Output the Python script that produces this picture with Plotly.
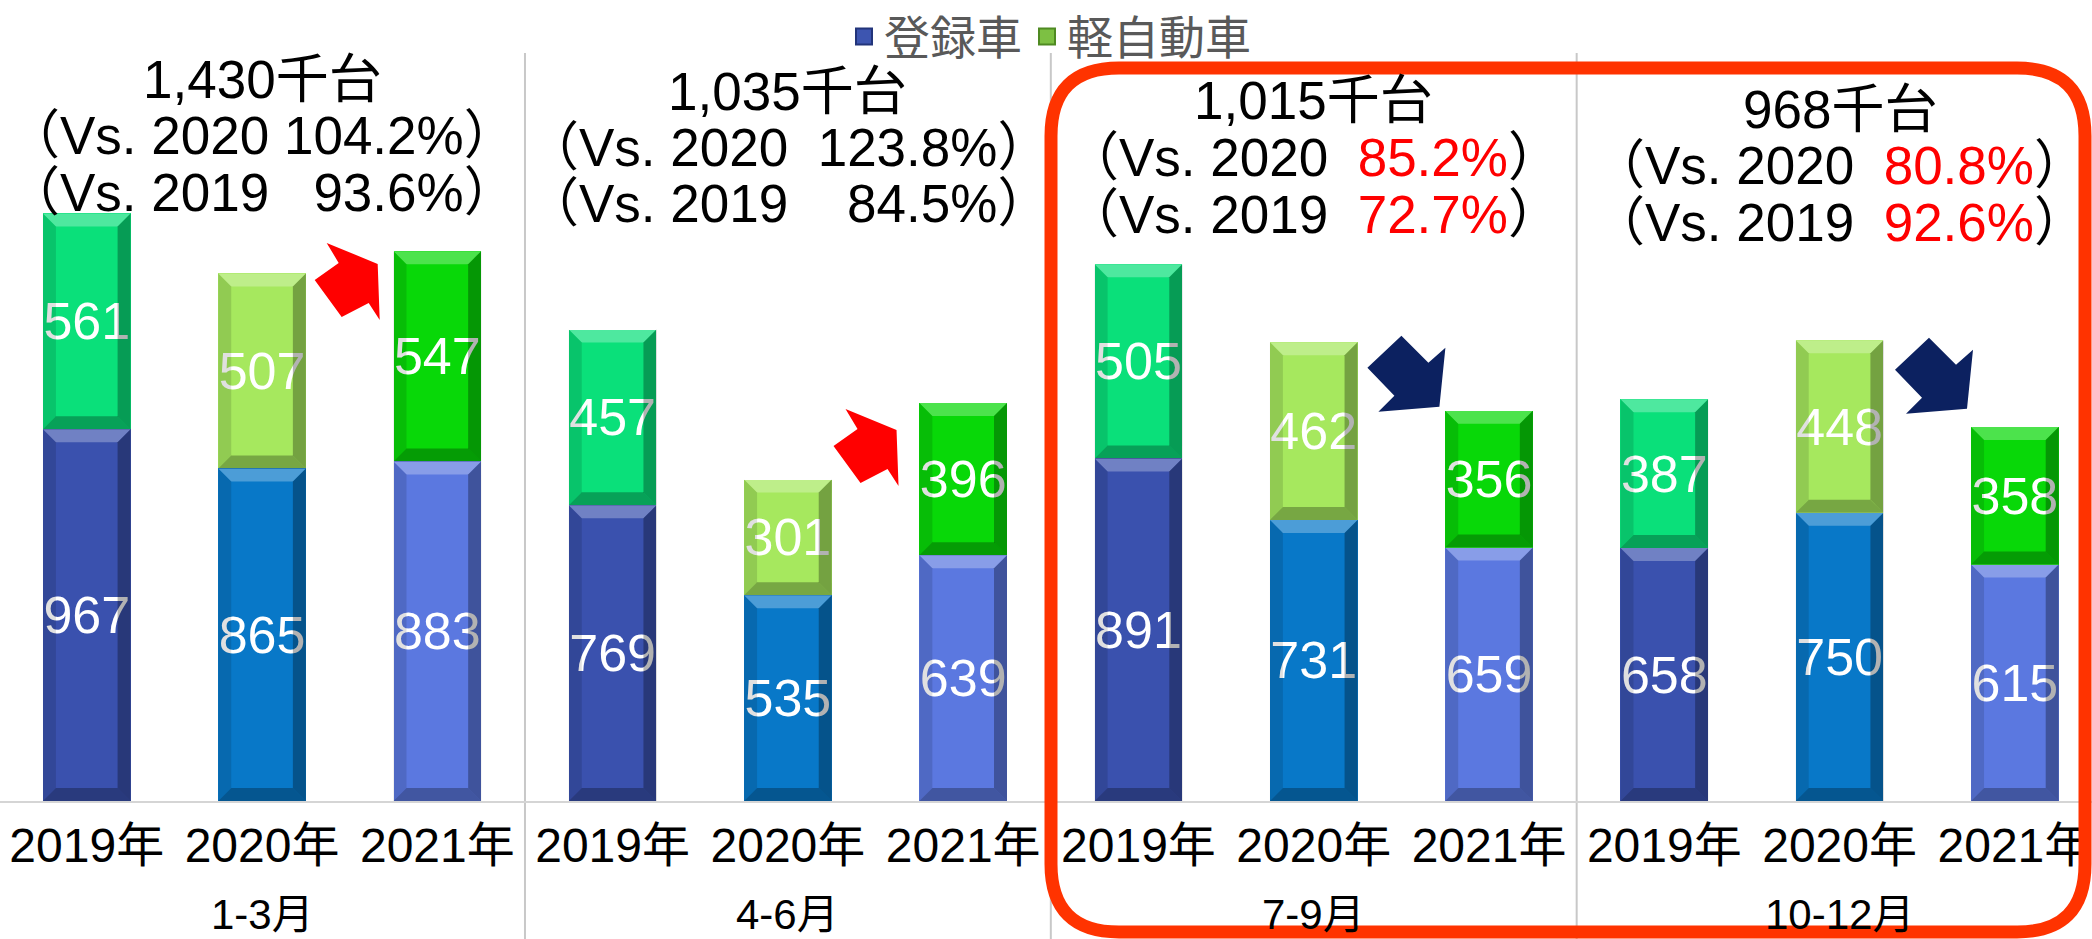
import plotly.graph_objects as go

# ---------------- data ----------------
quarters = ['1-3月', '4-6月', '7-9月', '10-12月']
years = ['2019年', '2020年', '2021年']
registered = [967, 865, 883, 769, 535, 639, 891, 731, 659, 658, 750, 615]   # 登録車
kei = [561, 507, 547, 457, 301, 396, 505, 462, 356, 387, 448, 358]          # 軽自動車
total_labels = ['1,430千台', '1,035千台', '1,015千台', '968千台']
vs2020_labels = ['104.2%', '123.8%', '85.2%', '80.8%']
vs2019_labels = ['93.6%', '84.5%', '72.7%', '92.6%']
vs2020_gap = [' ', '  ', '  ', '  ']
vs2019_gap = ['   ', '    ', '  ', '  ']
highlight = [False, False, True, True]
arrow_up = [True, True, False, False]

# ---------------- style ----------------
W, H = 2092, 939
M_T, M_B = 0, 138
PLOT_H = H - M_T - M_B
PX_PER_UNIT = 0.3845
YMAX = PLOT_H / PX_PER_UNIT
XR = [-0.495, 11.44]
FONT = 'Liberation Sans, Noto Sans CJK JP, sans-serif'
GRID_TOP_PX = 53

reg_colors = ['#3A51AE', '#0878C8', '#5B78E0']
kei_colors = ['#0AE07A', '#A6E85E', '#08D808']

n = len(registered)
xs = list(range(n))
yr = [i % 3 for i in xs]
BAR_W = 0.5

fig = go.Figure()
for vals, cols, name in [(registered, reg_colors, '登録車'), (kei, kei_colors, '軽自動車')]:
    fig.add_bar(
        x=xs, y=vals, name=name, showlegend=False, width=BAR_W,
        marker=dict(color=[cols[k] for k in yr], line=dict(width=0)),
        text=[str(v) for v in vals], textposition='inside',
        insidetextanchor='middle', textangle=0, constraintext='none',
        textfont=dict(color='white', size=52, family=FONT),
    )
# legend entries
fig.add_scatter(x=[None], y=[None], mode='markers', name='登録車',
                marker=dict(symbol='square', size=22, color='#3D55B0',
                            line=dict(color='#22347A', width=2)))
fig.add_scatter(x=[None], y=[None], mode='markers', name='軽自動車',
                marker=dict(symbol='square', size=22, color='#7DC043',
                            line=dict(color='#4F8A22', width=2)))

def py_to_paper(py):
    return (H - M_B - py) / PLOT_H

shapes = []
annotations = []

# bevel effect on every bar segment
px_per_cat = W / (XR[1] - XR[0])
hw = BAR_W / 2 * px_per_cat
bv = 13
bvd = bv / PX_PER_UNIT
for i in xs:
    base = 0
    for v in (registered[i], kei[i]):
        lo, hi = base, base + v
        base = hi
        common = dict(type='path', xref='x', xsizemode='pixel', xanchor=i, line=dict(width=0), layer='above')
        shapes.append(dict(common, yref='y', ysizemode='pixel', yanchor=hi,
                           path=f'M{-hw},0L{hw},0L{hw - bv},{-bv}L{-hw + bv},{-bv}Z',
                           fillcolor='rgba(255,255,255,0.28)'))
        shapes.append(dict(common, yref='y', ysizemode='pixel', yanchor=lo,
                           path=f'M{-hw},0L{hw},0L{hw - bv},{bv}L{-hw + bv},{bv}Z',
                           fillcolor='rgba(0,0,0,0.28)'))
        shapes.append(dict(common, yref='y',
                           path=f'M{hw},{lo}L{hw},{hi}L{hw - bv},{hi - bvd}L{hw - bv},{lo + bvd}Z',
                           fillcolor='rgba(0,0,0,0.3)'))
        shapes.append(dict(common, yref='y',
                           path=f'M{-hw},{lo}L{-hw},{hi}L{-hw + bv},{hi - bvd}L{-hw + bv},{lo + bvd}Z',
                           fillcolor='rgba(0,0,0,0.12)'))

# group dividers
for g in range(1, len(quarters)):
    shapes.append(dict(type='line', xref='x', yref='paper', x0=3 * g - 0.5, x1=3 * g - 0.5,
                       y0=-M_B / PLOT_H, y1=py_to_paper(GRID_TOP_PX),
                       line=dict(color='#C8C8C8', width=2), layer='below'))

# quarter labels
for g, q in enumerate(quarters):
    annotations.append(dict(xref='x', yref='paper', x=3 * g + 1, y=py_to_paper(915),
                            text=q, showarrow=False, yanchor='middle', borderpad=0,
                            font=dict(size=42, color='black', family=FONT)))

# group titles
title_base = [79, 91, 101, 109]
for g in range(len(quarters)):
    col = '#FF0000' if highlight[g] else 'black'
    lines = [
        total_labels[g],
        '（Vs. 2020' + vs2020_gap[g].replace(' ', '\u00a0') + f'<span style="color:{col}">{vs2020_labels[g]}</span>）',
        '（Vs. 2019' + vs2019_gap[g].replace(' ', '\u00a0') + f'<span style="color:{col}">{vs2019_labels[g]}</span>）',
    ]
    for k, t in enumerate(lines):
        annotations.append(dict(xref='x', yref='paper', x=3 * g + 1,
                                y=py_to_paper(title_base[g] + 56.5 * k),
                                text=t, showarrow=False, yanchor='middle', xanchor='center',
                                borderpad=0,
                                font=dict(size=53, color='black', family=FONT)))

# arrows (pixel-sized paths anchored in data space)
up_pts = [(-23, 39), (28, 18), (30, -38), (19, -21), (-8, -35), (-35, 2), (-11, 19)]
down_pts = [(-7, 38), (20, 11), (37, 26), (31, -33), (-30, -38), (-14, -22), (-41, 6)]
arrow_x = [1.50, 4.46, 7.54, 10.55]
arrow_y = [1350, 918, 1111, 1106]
for g in range(len(quarters)):
    pts = up_pts if arrow_up[g] else down_pts
    path = 'M' + 'L'.join(f'{a},{b}' for a, b in pts) + 'Z'
    shapes.append(dict(type='path', xref='x', yref='y', xsizemode='pixel', ysizemode='pixel',
                       xanchor=arrow_x[g], yanchor=arrow_y[g], path=path,
                       fillcolor='#FF0000' if arrow_up[g] else '#0C2160',
                       line=dict(width=0), layer='above'))

# red rounded highlight frame (pixel coords relative to plot bottom-left)
L, T, R, B, r = 1051, 68, 2085, 932, 68
def P(x, y):
    return f'{x},{H - M_B - y}'
frame = (f'M{P(L + r, T)}L{P(R - r, T)}Q{P(R, T)} {P(R, T + r)}L{P(R, B - r)}'
         f'Q{P(R, B)} {P(R - r, B)}L{P(L + r, B)}Q{P(L, B)} {P(L, B - r)}'
         f'L{P(L, T + r)}Q{P(L, T)} {P(L + r, T)}Z')
shapes.append(dict(type='path', xref='paper', yref='paper', xsizemode='pixel', ysizemode='pixel',
                   xanchor=0, yanchor=0, path=frame, line=dict(color='#FF3300', width=13),
                   fillcolor='rgba(0,0,0,0)', layer='above'))

fig.update_layout(
    width=W, height=H,
    margin=dict(l=0, r=0, t=M_T, b=M_B),
    barmode='stack',
    plot_bgcolor='white', paper_bgcolor='white',
    font=dict(family=FONT),
    showlegend=True,
    legend=dict(orientation='h', traceorder='normal', x=1050 / W, xanchor='center',
                y=1, yanchor='top', borderwidth=0,
                font=dict(size=46, color='#595959', family=FONT), bgcolor='rgba(0,0,0,0)',
                itemclick=False),
    xaxis=dict(range=XR, tickmode='array', tickvals=xs, ticktext=years * len(quarters),
               showgrid=False, zeroline=False, showline=True, linecolor='#D5D5D5', linewidth=2,
               ticks='outside', ticklen=1, tickcolor='rgba(0,0,0,0)', ticklabeloverflow='allow',
               tickfont=dict(size=48, color='black', family=FONT)),
    yaxis=dict(range=[0, YMAX], visible=False, showgrid=False),
    shapes=shapes,
    annotations=annotations,
)

fig.write_html('out.html', config={'displayModeBar': False},
               post_script="document.body.style.margin='0';document.body.style.padding='0';")
